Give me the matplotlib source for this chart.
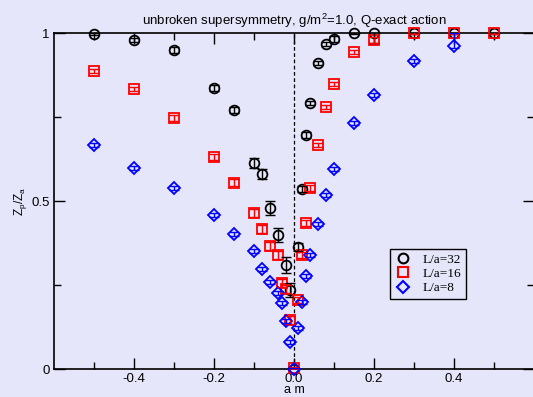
import numpy as np
import matplotlib
matplotlib.use("Agg")
import matplotlib.pyplot as plt
from matplotlib.lines import Line2D

# L/a = 32
am32 = [-0.5, -0.4, -0.3, -0.2, -0.15, -0.1, -0.08, -0.06, -0.04, -0.02, -0.01, 0.0,
        0.01, 0.02, 0.03, 0.04, 0.06, 0.08, 0.1, 0.15, 0.2, 0.3, 0.4, 0.5]
z32 = [0.997, 0.979, 0.949, 0.836, 0.771, 0.613, 0.58, 0.479, 0.399, 0.31, 0.235, 0.0,
       0.363, 0.536, 0.696, 0.792, 0.911, 0.967, 0.982, 1.0, 1.0, 1.0, 1.0, 1.0]
err32 = [0.004, 0.006, 0.008, 0.008, 0.01, 0.016, 0.014, 0.02, 0.021, 0.023, 0.02, 0.003,
         0.012, 0.01, 0.008, 0.006, 0.005, 0.005, 0.008, 0.002, 0.03, 0.002, 0.002, 0.002]

# L/a = 16
am16 = [-0.5, -0.4, -0.3, -0.2, -0.15, -0.1, -0.08, -0.06, -0.04, -0.03, -0.02, -0.01, 0.0,
        0.01, 0.02, 0.03, 0.04, 0.06, 0.08, 0.1, 0.15, 0.2, 0.3, 0.4, 0.5]
z16 = [0.887, 0.833, 0.747, 0.631, 0.554, 0.464, 0.417, 0.366, 0.339, 0.256, 0.238, 0.145, 0.003,
       0.205, 0.339, 0.435, 0.539, 0.667, 0.78, 0.848, 0.943, 0.979, 1.0, 1.0, 1.0]
err16 = [0.006, 0.007, 0.008, 0.01, 0.01, 0.011, 0.011, 0.012, 0.012, 0.013, 0.013, 0.012, 0.004,
         0.01, 0.008, 0.008, 0.008, 0.007, 0.007, 0.007, 0.006, 0.008, 0.004, 0.004, 0.004]

# L/a = 8
am8 = [-0.5, -0.4, -0.3, -0.2, -0.15, -0.1, -0.08, -0.06, -0.04, -0.03, -0.02, -0.01, 0.0,
       0.01, 0.02, 0.03, 0.04, 0.06, 0.08, 0.1, 0.15, 0.2, 0.3, 0.4]
z8 = [0.667, 0.598, 0.539, 0.458, 0.402, 0.351, 0.298, 0.259, 0.226, 0.196, 0.143, 0.08, 0.0,
      0.122, 0.2, 0.277, 0.339, 0.432, 0.518, 0.595, 0.732, 0.815, 0.917, 0.961]
err8_lo = [0.006, 0.006, 0.006, 0.007, 0.007, 0.007, 0.007, 0.007, 0.007, 0.007, 0.007, 0.006, 0.003,
           0.006, 0.006, 0.006, 0.006, 0.006, 0.006, 0.006, 0.006, 0.006, 0.006, 0.006]
err8_hi = [0.006, 0.006, 0.006, 0.007, 0.007, 0.007, 0.007, 0.007, 0.007, 0.007, 0.007, 0.006, 0.003,
           0.006, 0.006, 0.006, 0.006, 0.006, 0.006, 0.006, 0.006, 0.006, 0.006, 0.04]

labels = ["L/a=32", "L/a=16", "L/a=8"]

bg = "#e6e6fa"
plt.rcParams["font.family"] = ["Liberation Sans", "DejaVu Sans"]
plt.rcParams["mathtext.default"] = "regular"
plt.rcParams["axes.unicode_minus"] = False

fig = plt.figure(figsize=(5.33, 3.97), dpi=100, facecolor=bg)
ax = fig.add_axes([54 / 533, 28 / 397, 480 / 533, 336 / 397])
ax.set_facecolor(bg)

ms = 7
series = [
    (am32, z32, err32, "black", "o"),
    (am16, z16, err16, "red", "s"),
    (am8, z8, [err8_lo, err8_hi], "blue", "D"),
]
for x, y, e, c, m in series:
    msize = ms - 1 if m == "D" else ms
    ax.plot(x, y, linestyle="none", marker=m, ms=msize, mfc="none", mec=c, mew=1.3,
            zorder=3, clip_on=False)
    ax.errorbar(x, y, yerr=e, fmt="none", ecolor=c, elinewidth=1.0, capsize=3.5,
                capthick=1.0, zorder=4)

# dashed line at am = 0
ax.axvline(0, color="black", linestyle=(0, (3, 2)), linewidth=0.9, zorder=1)

ax.set_xlim(-0.6, 0.6)
ax.set_ylim(0, 1)
ax.set_xticks([-0.4, -0.2, 0, 0.2, 0.4])
ax.set_xticks([-0.5, -0.3, -0.1, 0.1, 0.3, 0.5], minor=True)
ax.set_yticks([0, 0.5, 1])
ax.set_yticklabels(["0", "0.5", "1"])
ax.set_yticks([0.25, 0.75], minor=True)
ax.tick_params(which="both", direction="in", top=True, right=True, labelsize=9.5,
               width=1.0, pad=3)
ax.tick_params(which="major", length=8)
ax.tick_params(which="minor", length=5)
for s in ax.spines.values():
    s.set_linewidth(1.2)

ax.set_title("unbroken supersymmetry, g/m$^2$=1.0, Q-exact action", fontsize=9.5, pad=6)
ax.set_xlabel("a m", fontsize=9, labelpad=-1)
ax.set_ylabel("Z$_p$/Z$_a$", fontsize=8.5, labelpad=2)

handles = [Line2D([], [], linestyle="none", marker=m, ms=(ms - 1 if m == "D" else ms),
                  mfc="none", mec=c, mew=1.5) for (_, _, _, c, m) in series]
leg = ax.legend(handles, labels, loc="upper left", bbox_to_anchor=(0.70, 0.357),
                borderaxespad=0, fancybox=False, edgecolor="black", facecolor=bg,
                framealpha=1, prop={"family": "Liberation Serif", "size": 9.5},
                handlelength=1.2, handletextpad=0.9, labelspacing=0.15, borderpad=0.35)
leg.get_frame().set_linewidth(1.0)

fig.savefig("out.png", dpi=100, facecolor=bg)
